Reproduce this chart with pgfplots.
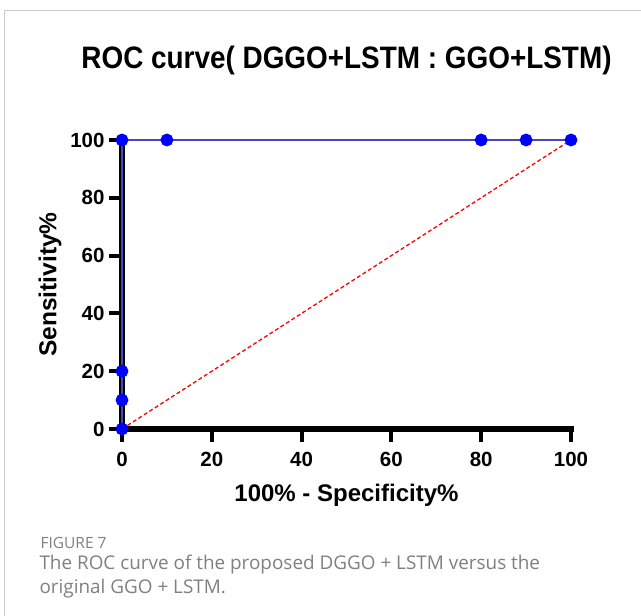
\documentclass[border=0pt]{standalone}
\usepackage{pgfplots}
\pgfplotsset{compat=1.18}
\usepackage{fontspec}
\setmainfont{Liberation Sans}
\newfontfamily\condfont{Liberation Sans}[FakeStretch=0.9]
\newfontfamily\capfont{Open Sans}
\definecolor{curveblue}{RGB}{70,70,190}
\definecolor{markblue}{RGB}{0,0,255}
\definecolor{capgray}{RGB}{128,128,128}
\definecolor{framegray}{RGB}{205,205,205}
\pgfplotsset{rocframe/.style={
  at={(122pt,187pt)}, anchor=south west,
  scale only axis, width=449pt, height=289pt,
  xmin=0, xmax=100, ymin=0, ymax=100, clip=false}}
\begin{document}
\begin{tikzpicture}[x=1pt,y=1pt]
\useasboundingbox (0,0) rectangle (641,616);
\fill[white] (0,0) rectangle (641,616);
\draw[framegray, line width=1.2pt] (4.5,0) -- (4.5,605.5) -- (641,605.5);
\begin{axis}[
  rocframe,
  axis lines*=left,
  axis line style={black, line width=5.5pt},
  xtick={0,20,40,60,80,100}, ytick={0,20,40,60,80,100},
  tick align=outside, major tick length=13pt,
  major tick style={line width=4pt, black},
  /pgf/number format/assume math mode=true,
  ticklabel style={font=\bfseries\fontsize{20.5}{22}\selectfont},
  xticklabel style={yshift=-7pt},
  yticklabel style={xshift=-1pt},
  title={\condfont\bfseries\fontsize{31}{36}\selectfont ROC curve( DGGO+LSTM : GGO+LSTM)},
  title style={at={(axis description cs:0.5,1.256)}, anchor=center},
  xlabel={\bfseries\fontsize{24}{26}\selectfont 100\% - Specificity\%},
  xlabel style={at={(axis description cs:0.5,-0.228)}, anchor=center},
  ylabel={\bfseries\fontsize{24.5}{26}\selectfont Sensitivity\%},
  ylabel style={at={(axis description cs:-0.16,0.5)}, anchor=center, rotate=0},
]
\addplot[red, dash pattern=on 4pt off 2.5pt, line width=1.3pt] coordinates {(0,0) (100,100)};
\end{axis}
\draw[black, line width=5.5pt, line cap=rect] (122,476) -- (122,187) -- (571,187);
\begin{axis}[rocframe, hide axis]
\addplot[curveblue, line width=1.8pt, mark=*, mark size=5.5pt,
  mark options={fill=markblue, draw=markblue, solid}] coordinates {
  (0,0) (0,10) (0,20) (0,100) (10,100) (80,100) (90,100) (100,100)};
\end{axis}
\node[anchor=base west, text=capgray, font=\capfont\fontsize{15.5}{18}\selectfont] at (37,616-549) {FIGURE 7};
\node[anchor=base west, text=capgray, font=\capfont\fontsize{18.9}{22}\selectfont] at (36,616-570) {The ROC curve of the proposed DGGO + LSTM versus the};
\node[anchor=base west, text=capgray, font=\capfont\fontsize{18.9}{22}\selectfont] at (36,616-594) {original GGO + LSTM.};
\end{tikzpicture}
\end{document}
